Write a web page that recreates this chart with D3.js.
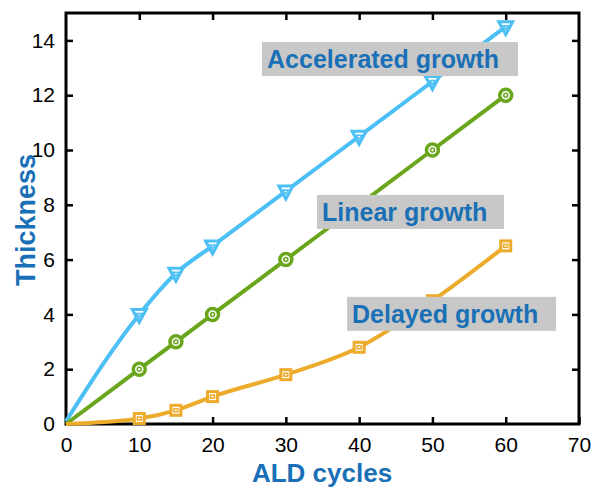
<!DOCTYPE html>
<html>
<head>
<meta charset="utf-8">
<script src="https://cdn.jsdelivr.net/npm/d3@7"></script>
<style>
  body { margin: 0; background: #fff; }
  text { font-family: "Liberation Sans", Arial, sans-serif; }
</style>
</head>
<body>
<div id="chart"></div>
<script>
// data
var cycles = [0, 10, 15, 20, 30, 40, 50, 60];
var accelerated = [0.1, 4, 5.5, 6.5, 8.5, 10.5, 12.5, 14.5];
var linear = [0, 2, 3, 4, 6, 8, 10, 12];
var delayed = [0, 0.2, 0.5, 1, 1.8, 2.8, 4.5, 6.5];
var xTicks = [0, 10, 20, 30, 40, 50, 60, 70];
var yTicks = [0, 2, 4, 6, 8, 10, 12, 14];

var margin = { top: 13, right: 12, bottom: 65, left: 66 };
var width = 591 - margin.left - margin.right,
    height = 489 - margin.top - margin.bottom;

var svg = d3.select("#chart").append("svg")
    .attr("width", 591)
    .attr("height", 489)
    .append("g")
    .attr("transform", "translate(" + margin.left + "," + margin.top + ")");

var x = d3.scaleLinear().domain([0, 70]).range([0, width]);
var y = d3.scaleLinear().domain([0, 15]).range([height, 0]);

// axes, ticks inward, mirrored on top and right
var xAxis = d3.axisBottom(x).tickValues(xTicks).tickSizeInner(-7).tickSizeOuter(0).tickPadding(13);
var yAxis = d3.axisLeft(y).tickValues(yTicks).tickSizeInner(-7).tickSizeOuter(0).tickPadding(11);

svg.append("g").attr("class", "x-axis axis")
    .attr("transform", "translate(0," + height + ")")
    .call(xAxis);
svg.append("g").attr("class", "y-axis axis")
    .call(yAxis);
svg.append("g").attr("class", "axis")
    .call(d3.axisTop(x).tickValues(xTicks.slice(1, -1)).tickSizeInner(-7).tickSizeOuter(0).tickFormat(""));
svg.append("g").attr("class", "axis")
    .attr("transform", "translate(" + width + ",0)")
    .call(d3.axisRight(y).tickValues(yTicks.slice(1)).tickSizeInner(-7).tickSizeOuter(0).tickFormat(""));

svg.selectAll(".axis path").remove();
svg.selectAll(".axis line").attr("stroke", "#000").attr("stroke-width", 2.5);
svg.selectAll(".axis text").attr("font-size", 21).attr("fill", "#000");

// frame
svg.append("rect")
    .attr("width", width).attr("height", height)
    .attr("fill", "none").attr("stroke", "#000").attr("stroke-width", 3);

var series = [
  { name: "accelerated", values: accelerated, color: "#4cbff5", marker: "tri" },
  { name: "linear", values: linear, color: "#6aa61c", marker: "circle" },
  { name: "delayed", values: delayed, color: "#ecab2a", marker: "square" }
];

var line = d3.line()
    .x(function(d, i) { return x(cycles[i]); })
    .y(function(d) { return y(d); })
    .curve(d3.curveMonotoneX);

series.forEach(function(s) {
  var g = svg.append("g").attr("class", s.name);
  g.append("path")
      .datum(s.values)
      .attr("d", line)
      .attr("fill", "none")
      .attr("stroke", s.color)
      .attr("stroke-width", 4);

  var pts = g.selectAll(".pt")
      .data(s.values.slice(1))
      .enter().append("g")
      .attr("transform", function(d, i) { return "translate(" + x(cycles[i + 1]) + "," + y(d) + ")"; });

  if (s.marker === "tri") {
    pts.append("path").attr("d", "M-7,-5 L7,-5 L0,8 Z")
        .attr("fill", "#fff").attr("stroke", s.color).attr("stroke-width", 3)
        .attr("stroke-linejoin", "miter");
    pts.append("path").attr("d", "M-2.5,-1 L2.5,-1 L0,3 Z")
        .attr("fill", "none").attr("stroke", s.color).attr("stroke-width", 1.5);
  } else if (s.marker === "circle") {
    pts.append("circle").attr("r", 6)
        .attr("fill", "#fff").attr("stroke", s.color).attr("stroke-width", 3.5);
    pts.append("circle").attr("r", 2)
        .attr("fill", "none").attr("stroke", s.color).attr("stroke-width", 1.5);
  } else {
    pts.append("rect").attr("x", -5).attr("y", -5).attr("width", 10).attr("height", 10)
        .attr("fill", "#fff").attr("stroke", s.color).attr("stroke-width", 3);
    pts.append("rect").attr("x", -2).attr("y", -1.5).attr("width", 4).attr("height", 3)
        .attr("fill", "none").attr("stroke", s.color).attr("stroke-width", 1.5);
  }
});

// annotation boxes (position in data units, box width in px)
var notes = [
  { text: "Accelerated growth", x: 26.75, y: 13.94, w: 256 },
  { text: "Linear growth", x: 34.25, y: 8.36, w: 187 },
  { text: "Delayed growth", x: 38.35, y: 4.64, w: 209 }
];

notes.forEach(function(n) {
  var bx = x(n.x), by = y(n.y);
  svg.append("rect")
      .attr("x", bx).attr("y", by)
      .attr("width", n.w).attr("height", 34)
      .attr("fill", "#c8c8c8");
  svg.append("text")
      .attr("x", bx + 5).attr("y", by + 26)
      .attr("font-size", 25).attr("font-weight", "bold")
      .attr("fill", "#1a70b6")
      .text(n.text);
});

// axis titles
svg.append("text")
    .attr("text-anchor", "middle")
    .attr("x", 322 - margin.left)
    .attr("y", height + 58)
    .attr("font-size", 26).attr("font-weight", "bold")
    .attr("fill", "#1a70b6")
    .text("ALD cycles");

svg.append("text")
    .attr("text-anchor", "middle")
    .attr("transform", "rotate(-90)")
    .attr("x", -(220 - margin.top))
    .attr("y", -31)
    .attr("font-size", 27).attr("font-weight", "bold")
    .attr("fill", "#1a70b6")
    .text("Thickness");
</script>
</body>
</html>
